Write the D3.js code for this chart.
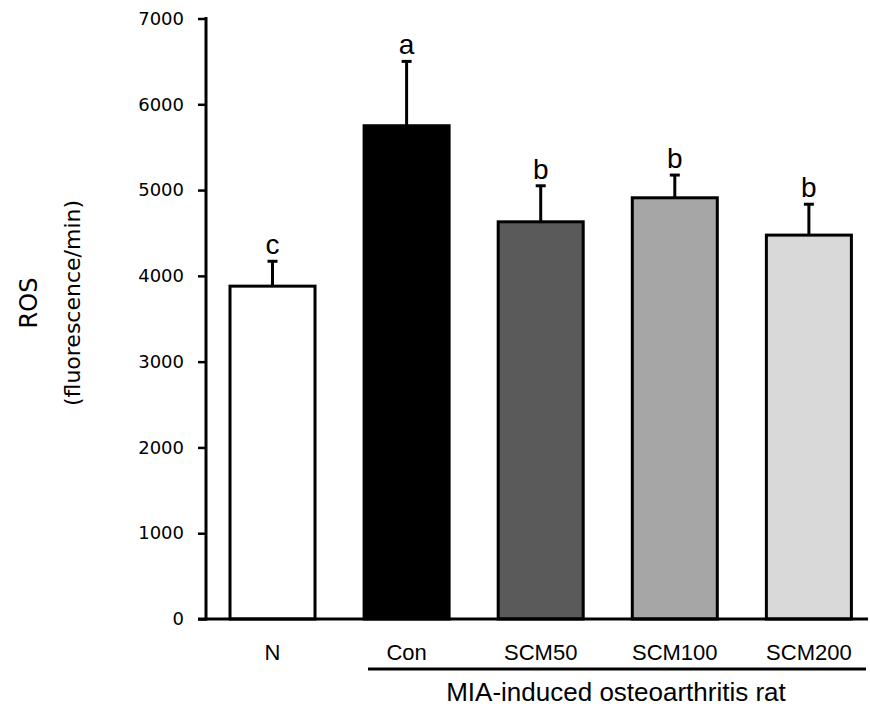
<!DOCTYPE html>
<html>
<head>
  <meta charset="utf-8">
  <title>ROS bar chart</title>
  <script src="https://cdn.jsdelivr.net/npm/d3@7/dist/d3.min.js"></script>
  <style>
    body { margin: 0; background: #fff; }
  </style>
</head>
<body>
<svg id="chart"></svg>
<script>
  var groups = ["N", "Con", "SCM50", "SCM100", "SCM200"];
  var means = [3880, 5750, 4630, 4910, 4475];
  var errors = [290, 750, 420, 265, 360];
  var letters = ["c", "a", "b", "b", "b"];
  var fills = ["#ffffff", "#000000", "#5a5a5a", "#a6a6a6", "#d9d9d9"];
  var yTicks = [0, 1000, 2000, 3000, 4000, 5000, 6000, 7000];

  var width = 870, height = 708;
  var svg = d3.select("#chart")
    .attr("width", width)
    .attr("height", height);

  var x = d3.scaleBand()
    .domain(groups)
    .range([206, 875.4])
    .paddingInner(0.366)
    .paddingOuter(0.179);

  var y = d3.scaleLinear()
    .domain([0, 7000])
    .range([619, 18.5]);

  // bars
  svg.selectAll("rect.bar")
    .data(groups)
    .enter().append("rect")
    .attr("class", "bar")
    .attr("x", function(d) { return x(d); })
    .attr("width", x.bandwidth())
    .attr("y", function(d, i) { return y(means[i]); })
    .attr("height", function(d, i) { return y(0) - y(means[i]); })
    .attr("fill", function(d, i) { return fills[i]; })
    .attr("stroke", "#000")
    .attr("stroke-width", 3);

  // error bars (upper only)
  var cx = function(d) { return x(d) + x.bandwidth() / 2; };
  svg.selectAll("line.err")
    .data(groups)
    .enter().append("line")
    .attr("x1", cx).attr("x2", cx)
    .attr("y1", function(d, i) { return y(means[i]); })
    .attr("y2", function(d, i) { return y(means[i] + errors[i]); })
    .attr("stroke", "#000")
    .attr("stroke-width", 3);

  svg.selectAll("line.cap")
    .data(groups)
    .enter().append("line")
    .attr("x1", function(d) { return cx(d) - 5; })
    .attr("x2", function(d) { return cx(d) + 5; })
    .attr("y1", function(d, i) { return y(means[i] + errors[i]); })
    .attr("y2", function(d, i) { return y(means[i] + errors[i]); })
    .attr("stroke", "#000")
    .attr("stroke-width", 3);

  // significance letters
  svg.selectAll("text.sig")
    .data(groups)
    .enter().append("text")
    .attr("x", cx)
    .attr("y", function(d, i) { return y(means[i] + errors[i]) - 7; })
    .attr("text-anchor", "middle")
    .attr("font-family", "Liberation Sans, Arial, sans-serif")
    .attr("font-size", 28)
    .text(function(d, i) { return letters[i]; });

  // y axis
  var yAxis = d3.axisLeft(y)
    .tickValues(yTicks)
    .tickSize(8)
    .tickPadding(14)
    .tickFormat(d3.format("d"));

  var gy = svg.append("g")
    .attr("transform", "translate(206,0)")
    .call(yAxis);
  gy.select(".domain").remove();
  gy.selectAll(".tick line").attr("stroke", "#000").attr("stroke-width", 2.5);
  gy.selectAll(".tick text")
    .attr("font-family", "DejaVu Sans, sans-serif")
    .attr("font-size", 18)
    .attr("fill", "#000");

  svg.append("line")
    .attr("x1", 206).attr("x2", 206)
    .attr("y1", y(7000) - 1.5).attr("y2", y(0) + 1.5)
    .attr("stroke", "#000").attr("stroke-width", 3);

  // x axis
  svg.append("line")
    .attr("x1", 198).attr("x2", 868)
    .attr("y1", y(0)).attr("y2", y(0))
    .attr("stroke", "#000").attr("stroke-width", 3);

  svg.selectAll("text.cat")
    .data(groups)
    .enter().append("text")
    .attr("x", cx)
    .attr("y", 660)
    .attr("text-anchor", "middle")
    .attr("font-family", "Liberation Sans, Arial, sans-serif")
    .attr("font-size", 22)
    .text(function(d) { return d; });

  // group bracket for MIA rats
  svg.append("line")
    .attr("x1", 368).attr("x2", 866)
    .attr("y1", 669).attr("y2", 669)
    .attr("stroke", "#000").attr("stroke-width", 3);

  svg.append("text")
    .attr("x", 616)
    .attr("y", 701)
    .attr("text-anchor", "middle")
    .attr("font-family", "Liberation Sans, Arial, sans-serif")
    .attr("font-size", 26)
    .text("MIA-induced osteoarthritis rat");

  // y title
  svg.append("text")
    .attr("transform", "translate(37,303) rotate(-90)")
    .attr("text-anchor", "middle")
    .attr("font-family", "DejaVu Sans, sans-serif")
    .attr("font-size", 24)
    .text("ROS");

  svg.append("text")
    .attr("transform", "translate(80,303) rotate(-90)")
    .attr("text-anchor", "middle")
    .attr("font-family", "DejaVu Sans, sans-serif")
    .attr("font-size", 22)
    .text("(fluorescence/min)");
</script>
</body>
</html>
